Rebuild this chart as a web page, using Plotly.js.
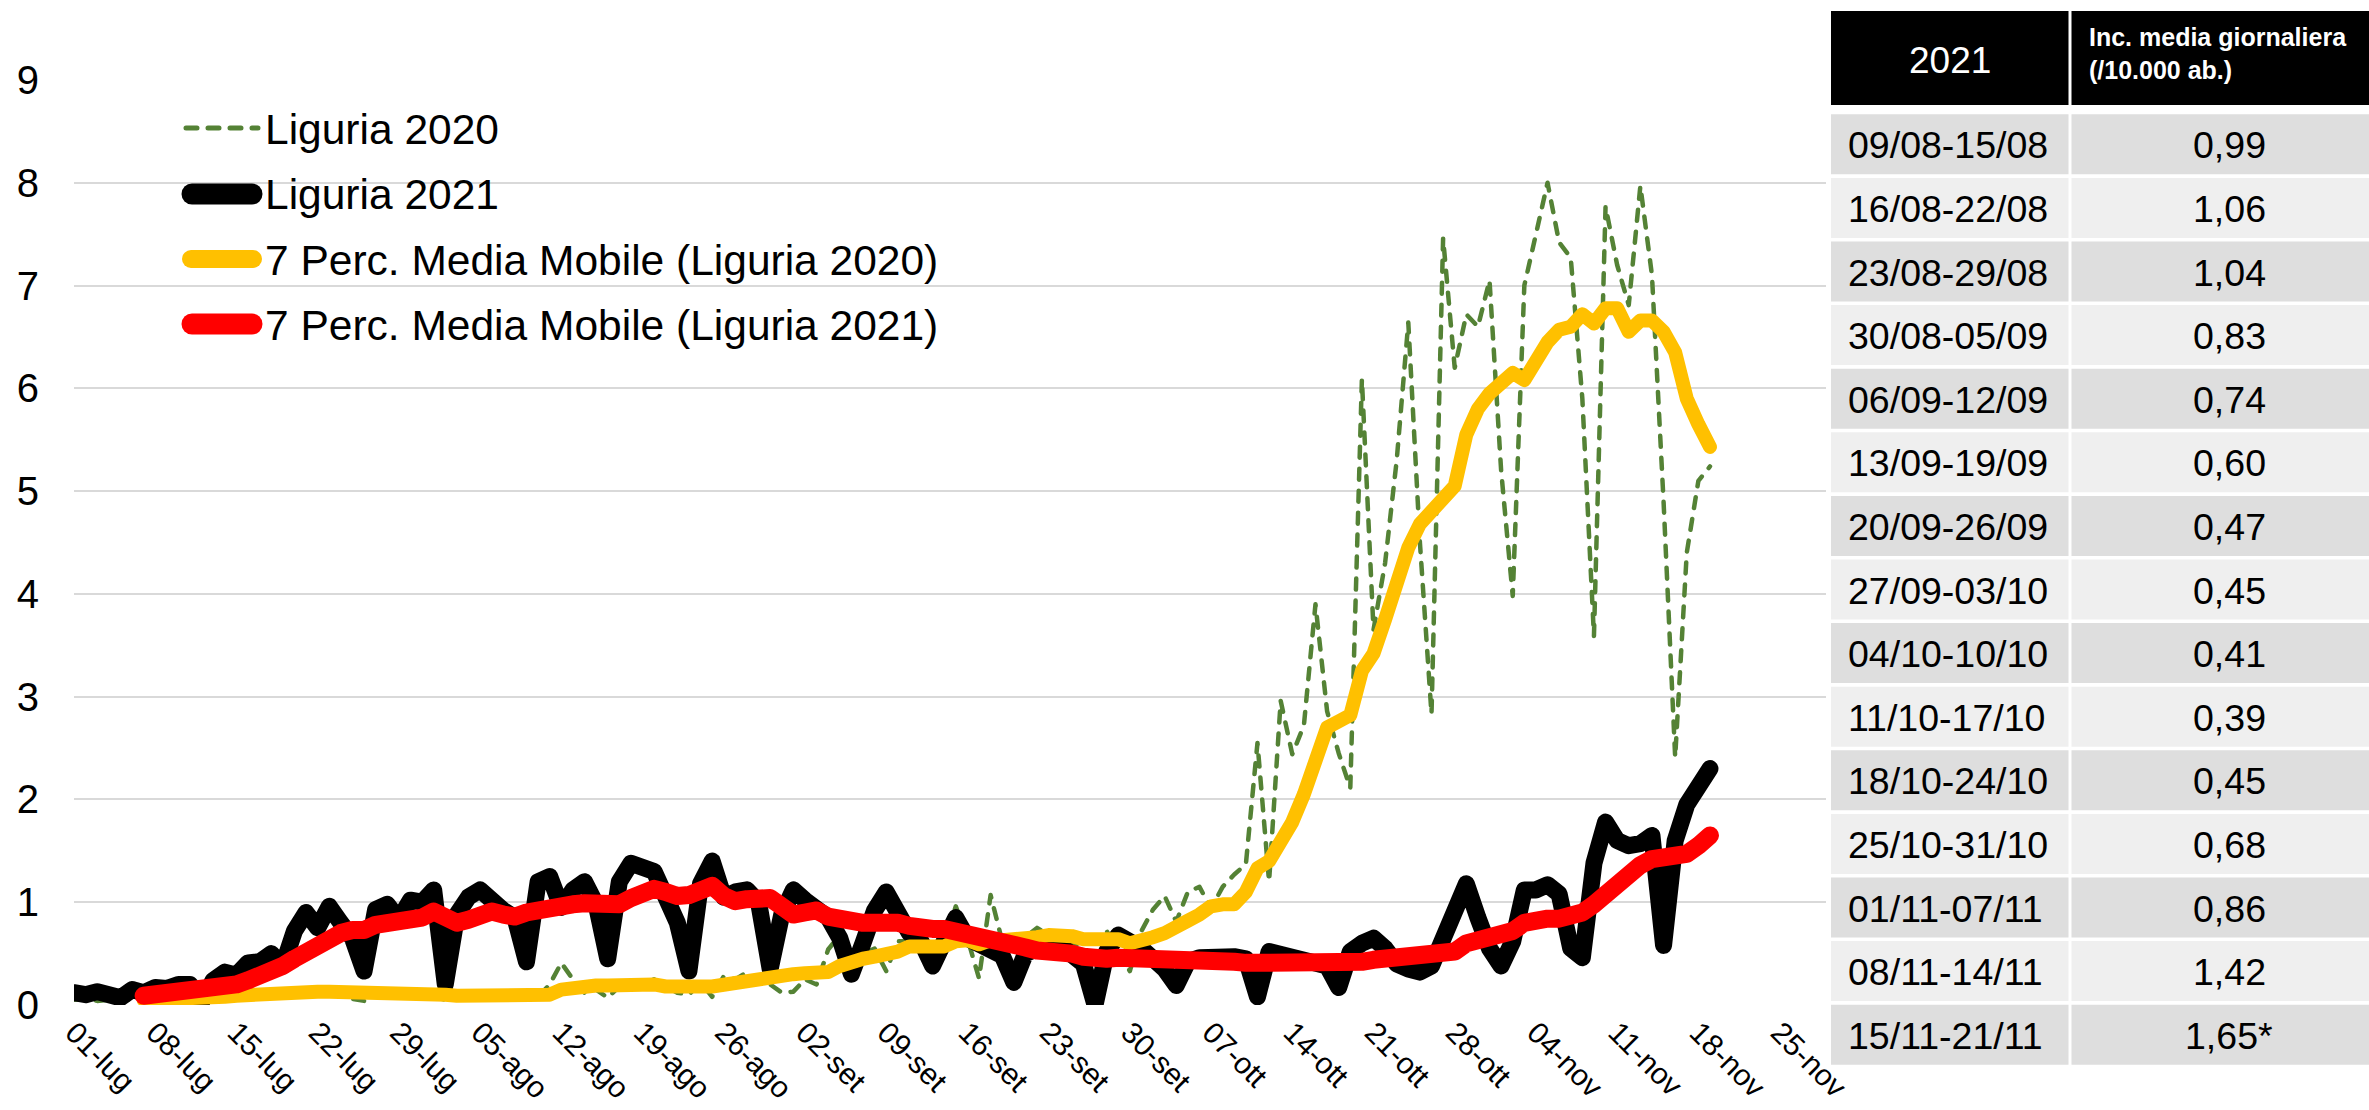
<!DOCTYPE html>
<html>
<head>
<meta charset="utf-8">
<script src="https://cdn.plot.ly/plotly-3.0.1.min.js"></script>
<style>html,body{margin:0;padding:0;background:#fff;}#chart{width:2369px;height:1110px;}</style>
</head>
<body>
<div id="chart"></div>
<script>
// ---------------- DATA ----------------
const startDay = '2021-07-01';
const tickLabels = ['01-lug','08-lug','15-lug','22-lug','29-lug','05-ago','12-ago','19-ago','26-ago','02-set','09-set','16-set','23-set','30-set','07-ott','14-ott','21-ott','28-ott','04-nov','11-nov','18-nov','25-nov'];

// Liguria 2021, daily incidence (/10.000 ab.), 01-lug .. 19-nov
const liguria2021 = [0.12,0.10,0.13,0.11,0.07,0.15,0.12,0.17,0.16,0.20,0.20,
 0.03,0.24,0.32,0.29,0.41,0.42,0.50,
 0.38,0.72,0.90,0.75,0.96,0.80,0.65,
 0.33,0.93,0.98,0.83,1.02,1.00,1.12,
 0.20,0.88,1.05,1.12,1.00,0.92,0.85,
 0.42,1.20,1.25,0.95,1.12,1.20,0.98,
 0.45,1.20,1.38,1.35,1.30,1.05,0.80,
 0.33,1.18,1.40,1.05,1.10,1.12,1.00,
 0.35,0.88,1.12,1.02,0.95,0.85,0.65,
 0.30,0.60,0.92,1.10,0.90,0.70,0.62,
 0.38,0.62,0.85,0.65,0.60,0.55,0.48,
 0.22,0.50,0.55,0.62,0.58,0.50,0.40,
 0.00,0.52,0.68,0.62,0.55,0.45,0.35,
 0.19,0.42,0.46,0.47,0.46,0.47,0.45,
 0.08,0.52,0.50,0.47,0.46,0.42,0.38,
 0.17,0.52,0.60,0.65,0.55,0.40,0.35,
 0.32,0.38,0.62,0.92,1.18,0.85,0.55,
 0.38,0.62,1.12,1.12,1.17,1.08,0.55,
 0.46,1.38,1.78,1.60,1.55,1.57,1.65,
 0.58,1.60,1.95,2.12,2.30];

// Liguria 2020 (same calendar days)
const liguria2020 = [0.05,0.06,0.04,0.05,0.03,0.06,0.05,0.07,0.05,0.06,0.04,
 0.02,0.06,0.08,0.07,0.09,0.10,0.14,
 0.08,0.10,0.12,0.09,0.11,0.10,0.06,
 0.04,0.13,0.08,0.15,0.09,0.10,0.08,
 0.05,0.09,0.08,0.10,0.07,0.09,0.06,
 0.05,0.08,0.20,0.41,0.25,0.12,0.15,
 0.07,0.18,0.22,0.20,0.25,0.18,0.12,
 0.10,0.22,0.08,0.28,0.25,0.32,0.22,
 0.20,0.12,0.13,0.25,0.20,0.54,0.68,
 0.45,0.50,0.55,0.33,0.62,0.62,0.58,
 0.50,0.62,0.96,0.65,0.26,1.07,0.62,
 0.65,0.66,0.75,0.68,0.70,0.58,0.62,
 0.65,0.72,0.52,0.33,0.72,0.93,1.06,
 0.81,1.10,1.15,0.94,1.15,1.27,1.37,
 2.55,1.20,2.96,2.44,2.72,3.90,2.86,
 2.45,2.11,6.09,3.65,4.30,5.30,6.64,
 4.50,2.83,7.46,6.20,6.72,6.60,7.05,
 5.20,3.98,7.00,7.50,8.00,7.42,7.27,
 5.90,3.59,7.77,7.20,6.81,7.97,7.10,
 4.90,2.41,4.40,5.10,5.24];

// 7 Perc. Media Mobile (Liguria 2021), from 07-lug
const mediaMobile2021 = [0.09,0.10,0.11,0.12,0.14,
 0.13,0.16,0.18,0.20,0.24,0.28,0.33,
 0.38,0.45,0.52,0.58,0.65,0.70,0.73,
 0.73,0.78,0.80,0.80,0.82,0.85,0.91,
 0.86,0.80,0.83,0.88,0.91,0.88,0.86,
 0.90,0.93,0.96,0.96,0.98,0.99,0.99,
 1.00,0.98,1.04,1.10,1.13,1.10,1.06,
 1.07,1.12,1.16,1.06,1.01,1.03,1.04,
 1.04,0.96,0.88,0.90,0.92,0.86,0.83,
 0.82,0.80,0.80,0.82,0.80,0.77,0.74,
 0.74,0.74,0.72,0.68,0.65,0.63,0.60,
 0.58,0.56,0.53,0.53,0.52,0.50,0.47,
 0.44,0.45,0.46,0.46,0.45,0.45,0.45,
 0.46,0.45,0.43,0.42,0.42,0.42,0.41,
 0.41,0.42,0.42,0.42,0.41,0.40,0.39,
 0.41,0.41,0.42,0.44,0.45,0.45,0.45,
 0.46,0.46,0.47,0.52,0.60,0.63,0.68,
 0.70,0.72,0.80,0.83,0.84,0.84,0.86,
 0.90,0.98,1.08,1.17,1.27,1.36,1.42,
 1.44,1.45,1.47,1.55,1.65];

// 7 Perc. Media Mobile (Liguria 2020), from 07-lug
const mediaMobile2020 = [0.05,0.05,0.05,0.06,0.06,
 0.06,0.07,0.08,0.09,0.10,0.11,0.12,
 0.12,0.13,0.13,0.13,0.13,0.13,0.12,
 0.10,0.10,0.10,0.10,0.10,0.10,0.10,
 0.10,0.09,0.09,0.09,0.08,0.08,0.08,
 0.08,0.08,0.10,0.15,0.17,0.18,0.19,
 0.19,0.20,0.21,0.21,0.20,0.18,0.17,
 0.17,0.18,0.18,0.20,0.22,0.25,0.26,
 0.27,0.28,0.30,0.31,0.31,0.32,0.38,
 0.43,0.45,0.47,0.48,0.52,0.57,0.57,
 0.56,0.57,0.62,0.63,0.59,0.63,0.63,
 0.63,0.64,0.66,0.68,0.69,0.67,0.64,
 0.64,0.66,0.64,0.60,0.62,0.66,0.70,
 0.78,0.82,0.88,0.96,0.98,0.98,1.10,
 1.33,1.40,1.60,1.78,2.05,2.35,2.70,
 2.76,2.82,3.25,3.42,3.75,4.10,4.45,
 4.68,4.80,4.95,5.05,5.55,5.80,5.95,
 6.05,6.15,6.08,6.30,6.45,6.57,6.60,
 6.72,6.63,6.78,6.78,6.55,6.66,6.66,
 6.55,6.35,5.90,5.65,5.43];

// Table
const tableHeader = ['2021', 'Inc. media giornaliera<br>(/10.000 ab.)'];
const tableWeeks = ['09/08-15/08','16/08-22/08','23/08-29/08','30/08-05/09','06/09-12/09','13/09-19/09','20/09-26/09','27/09-03/10','04/10-10/10','11/10-17/10','18/10-24/10','25/10-31/10','01/11-07/11','08/11-14/11','15/11-21/11'];
const tableValues = ['0,99','1,06','1,04','0,83','0,74','0,60','0,47','0,45','0,41','0,39','0,45','0,68','0,86','1,42','1,65*'];

const legendNames = ['Liguria 2020','Liguria 2021','7 Perc. Media Mobile (Liguria 2020)','7 Perc. Media Mobile (Liguria 2021)'];

// ---------------- BUILD ----------------
const dates = [];
for (let i = 0; i < 152; i++) {
  const d = new Date(startDay + 'T00:00:00Z');
  d.setUTCDate(d.getUTCDate() + i);
  dates.push(d.toISOString().slice(0, 10));
}
const tickDates = tickLabels.map((_, k) => dates[k * 7]);

const GREEN = '#548235', BLACK = '#000000', YELLOW = '#FFC000', RED = '#FF0000';
const FONT = 'Liberation Sans, Arial, sans-serif';

const W = 2369, H = 1110, L = 74, R = 1826, T = 80, B = 1005;
const px = x => (x - L) / (R - L);
const py = y => (B - y) / (B - T);

const traces = [
  {x: dates.slice(0, liguria2020.length), y: liguria2020, type: 'scatter', mode: 'lines',
   line: {color: GREEN, width: 4.5, dash: '11px,11px'}, name: legendNames[0], showlegend: false},
  {x: dates.slice(0, liguria2021.length), y: liguria2021, type: 'scatter', mode: 'lines',
   line: {color: BLACK, width: 17}, name: legendNames[1], showlegend: false},
  {x: dates.slice(6, 6 + mediaMobile2020.length), y: mediaMobile2020, type: 'scatter', mode: 'lines',
   line: {color: YELLOW, width: 14}, name: legendNames[2], showlegend: false},
  {x: dates.slice(6, 6 + mediaMobile2021.length), y: mediaMobile2021, type: 'scatter', mode: 'lines',
   line: {color: RED, width: 18}, name: legendNames[3], showlegend: false}
];

const shapes = [];
const annotations = [];

// manual legend
const legRows = [128, 194, 259, 324];
const legStyles = [
  {color: GREEN, width: 5, dash: '11px,11px', x0: 186, x1: 258},
  {color: BLACK, width: 21, dash: 'solid', x0: 192, x1: 252},
  {color: YELLOW, width: 18, dash: 'solid', x0: 191, x1: 253},
  {color: RED, width: 21, dash: 'solid', x0: 192, x1: 252}
];
legendNames.forEach((nm, i) => {
  const s = legStyles[i];
  shapes.push({type: 'line', xref: 'paper', yref: 'paper', x0: px(s.x0), x1: px(s.x1), y0: py(legRows[i]), y1: py(legRows[i]),
    line: {color: s.color, width: s.width, dash: s.dash}, layer: 'above'});
  annotations.push({xref: 'paper', yref: 'paper', x: px(263), y: py(legRows[i] + 1), xanchor: 'left', yanchor: 'middle',
    text: nm, showarrow: false, font: {family: FONT, size: 42.5, color: '#000'}});
});

// table
const c1x0 = 1831, c1x1 = 2068.5, c2x0 = 2071.5, c2x1 = 2380;
const hTop = 11, hBot = 105;
shapes.push({type: 'rect', xref: 'paper', yref: 'paper', x0: px(c1x0), x1: px(c1x1), y0: py(hBot), y1: py(hTop), fillcolor: '#000', line: {width: 0}, layer: 'above'});
shapes.push({type: 'rect', xref: 'paper', yref: 'paper', x0: px(c2x0), x1: px(c2x1), y0: py(hBot), y1: py(hTop), fillcolor: '#000', line: {width: 0}, layer: 'above'});
annotations.push({xref: 'paper', yref: 'paper', x: px((c1x0 + c1x1) / 2), y: py(60), xanchor: 'center', yanchor: 'middle',
  text: tableHeader[0], showarrow: false, font: {family: FONT, size: 37, color: '#fff'}});
annotations.push({xref: 'paper', yref: 'paper', x: px(2087), y: py(53), xanchor: 'left', yanchor: 'middle', align: 'left',
  text: '<b>' + tableHeader[1].replace('<br>', '</b><br><b>') + '</b>', showarrow: false, font: {family: FONT, size: 25, color: '#fff'}});

const rowTop0 = 114.3, rowPitch = 63.6, rowH = 60;
tableWeeks.forEach((wk, i) => {
  const top = rowTop0 + i * rowPitch, bot = top + rowH;
  const fill = (i % 2 === 0) ? '#DEDEDE' : '#EFEFEF';
  shapes.push({type: 'rect', xref: 'paper', yref: 'paper', x0: px(c1x0), x1: px(c1x1), y0: py(bot), y1: py(top), fillcolor: fill, line: {width: 0}, layer: 'above'});
  shapes.push({type: 'rect', xref: 'paper', yref: 'paper', x0: px(c2x0), x1: px(c2x1), y0: py(bot), y1: py(top), fillcolor: fill, line: {width: 0}, layer: 'above'});
  annotations.push({xref: 'paper', yref: 'paper', x: px(1846), y: py(top + rowH / 2 + 1), xanchor: 'left', yanchor: 'middle',
    text: wk, showarrow: false, font: {family: FONT, size: 37.5, color: '#000'}});
  annotations.push({xref: 'paper', yref: 'paper', x: px(2229), y: py(top + rowH / 2 + 1), xanchor: 'center', yanchor: 'middle',
    text: tableValues[i], showarrow: false, font: {family: FONT, size: 37.5, color: '#000'}});
});

const layout = {
  width: W, height: H,
  margin: {l: L, r: W - R, t: T, b: H - B, pad: 0},
  paper_bgcolor: '#fff', plot_bgcolor: '#fff',
  showlegend: false,
  font: {family: FONT, color: '#000'},
  xaxis: {
    type: 'date', range: [dates[0], dates[151]],
    tickmode: 'array', tickvals: tickDates, ticktext: tickLabels,
    tickangle: 45, tickfont: {family: FONT, size: 30, color: '#000'},
    showgrid: false, zeroline: false, showline: false, ticks: '', ticklabelstandoff: 3,
    automargin: false
  },
  yaxis: {
    range: [0, 9], dtick: 1, tick0: 0,
    tickfont: {family: FONT, size: 40, color: '#000'},
    gridcolor: '#D9D9D9', gridwidth: 2, zeroline: false, showline: false, ticks: '',
    ticklabelstandoff: 34, automargin: false
  },
  shapes: shapes,
  annotations: annotations
};

Plotly.newPlot('chart', traces, layout, {staticPlot: true, displayModeBar: false}).then(() => {
  document.querySelectorAll('.scatterlayer .js-line').forEach(p => {
    p.style.strokeLinecap = 'round';
    p.style.strokeLinejoin = 'round';
  });
  document.querySelectorAll('.shapelayer path').forEach(p => {
    p.style.strokeLinecap = 'round';
  });
});
</script>
</body>
</html>
